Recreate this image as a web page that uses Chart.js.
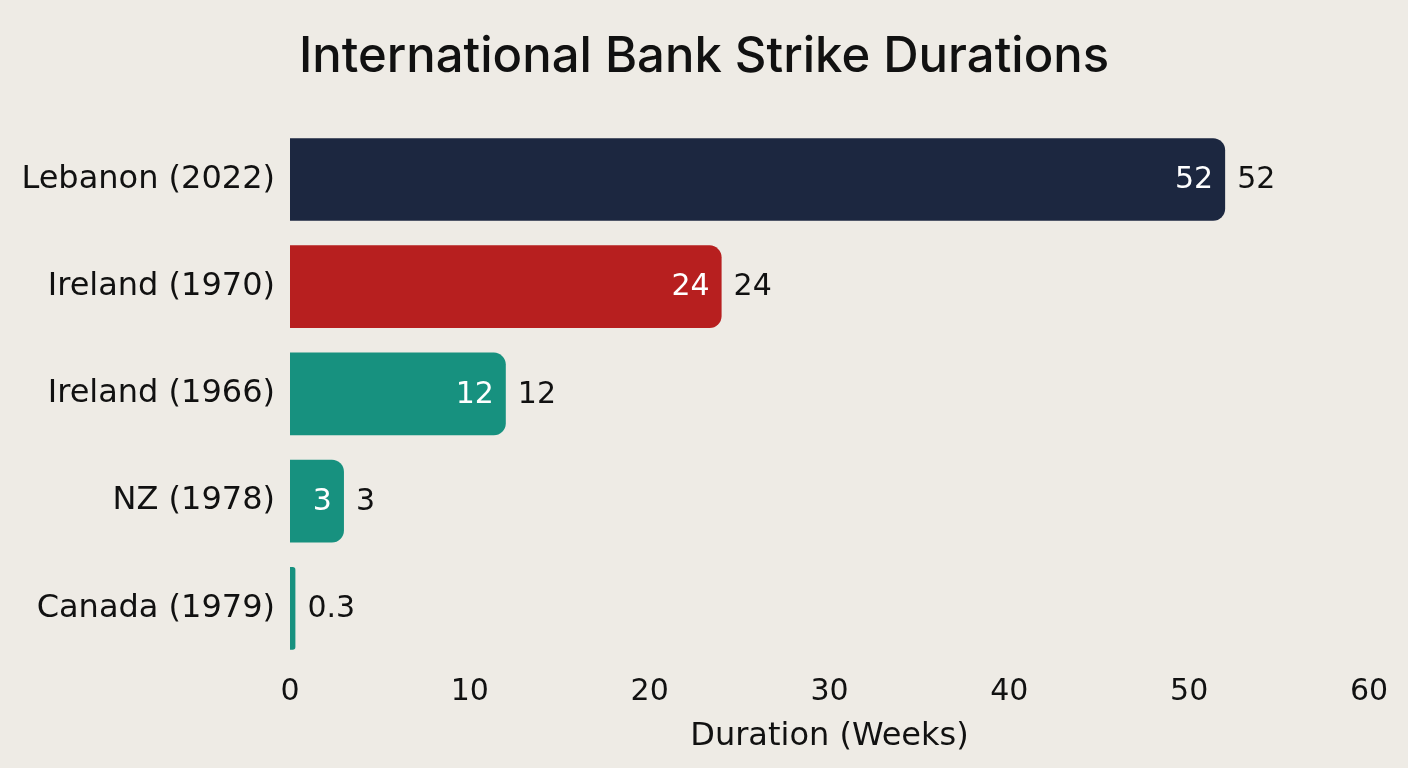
<!DOCTYPE html>
<html>
<head>
<meta charset="utf-8">
<title>International Bank Strike Durations</title>
<script src="https://cdn.jsdelivr.net/npm/chart.js@4.4.1/dist/chart.umd.min.js"></script>
<style>
  html, body { margin: 0; padding: 0; background: #eeebe5; }
  #wrap { width: 1408px; height: 768px; position: relative; }
</style>
</head>
<body>
<div id="wrap"><canvas id="chart-strikes"></canvas></div>
<script>
  // chart data
  var categories = ['Lebanon (2022)', 'Ireland (1970)', 'Ireland (1966)', 'NZ (1978)', 'Canada (1979)'];
  var durations = [52, 24, 12, 3, 0.3];
  var barColors = ['#1c2740', '#b71f1f', '#17917f', '#17917f', '#17917f'];
  var xTicks = [0, 10, 20, 30, 40, 50, 60];

  var labelFont = '"DejaVu Sans", sans-serif';

  // draws the value twice: white inside the bar end, black just past it
  var valueLabels = {
    id: 'valueLabels',
    afterDatasetsDraw: function (chart) {
      var ctx = chart.ctx;
      var meta = chart.getDatasetMeta(0);
      ctx.save();
      ctx.font = '30px ' + labelFont;
      ctx.textBaseline = 'middle';
      meta.data.forEach(function (bar, i) {
        var txt = String(durations[i]);
        var w = ctx.measureText(txt).width;
        if (bar.x - bar.base > w + 20) {
          ctx.fillStyle = '#ffffff';
          ctx.textAlign = 'right';
          ctx.fillText(txt, bar.x - 12, bar.y + 1);
        }
        ctx.fillStyle = '#111111';
        ctx.textAlign = 'left';
        ctx.fillText(txt, bar.x + 12, bar.y + 1);
      });
      ctx.restore();
    }
  };

  new Chart(document.getElementById('chart-strikes'), {
    type: 'bar',
    data: {
      labels: categories,
      datasets: [{
        label: 'Duration (Weeks)',
        data: durations,
        backgroundColor: barColors,
        borderRadius: 12,
        borderSkipped: 'start',
        categoryPercentage: 1,
        barPercentage: 0.77
      }]
    },
    plugins: [valueLabels],
    options: {
      indexAxis: 'y',
      responsive: true,
      maintainAspectRatio: false,
      animation: false,
      layout: { padding: 0 },
      plugins: {
        legend: { display: false },
        tooltip: { enabled: false },
        title: {
          display: true,
          text: 'International Bank Strike Durations',
          color: '#111111',
          font: { family: 'Inter, "Noto Sans", sans-serif', size: 49, weight: 500 },
          padding: { top: 28, bottom: 39 }
        }
      },
      scales: {
        x: {
          min: 0,
          max: 60,
          afterBuildTicks: function (scale) {
            scale.ticks = xTicks.map(function (v) { return { value: v }; });
          },
          afterFit: function (scale) { scale.height = 106; },
          grid: { display: false, drawTicks: false },
          border: { display: false },
          ticks: { color: '#111111', padding: 12, font: { family: labelFont, size: 30 } },
          title: {
            display: true,
            text: 'Duration (Weeks)',
            color: '#111111',
            font: { family: labelFont, size: 32 },
            padding: { top: 4, bottom: 12 }
          }
        },
        y: {
          afterFit: function (scale) { scale.width = 290; },
          grid: { display: false, drawTicks: false },
          border: { display: false },
          ticks: { color: '#111111', padding: 15, font: { family: labelFont, size: 32 } }
        },
        // empty right margin so the title stays centred on the page
        yRight: {
          type: 'category',
          position: 'right',
          labels: categories,
          afterFit: function (scale) { scale.width = 39; },
          grid: { display: false, drawTicks: false },
          border: { display: false },
          ticks: { display: false }
        }
      }
    }
  });
</script>
</body>
</html>
